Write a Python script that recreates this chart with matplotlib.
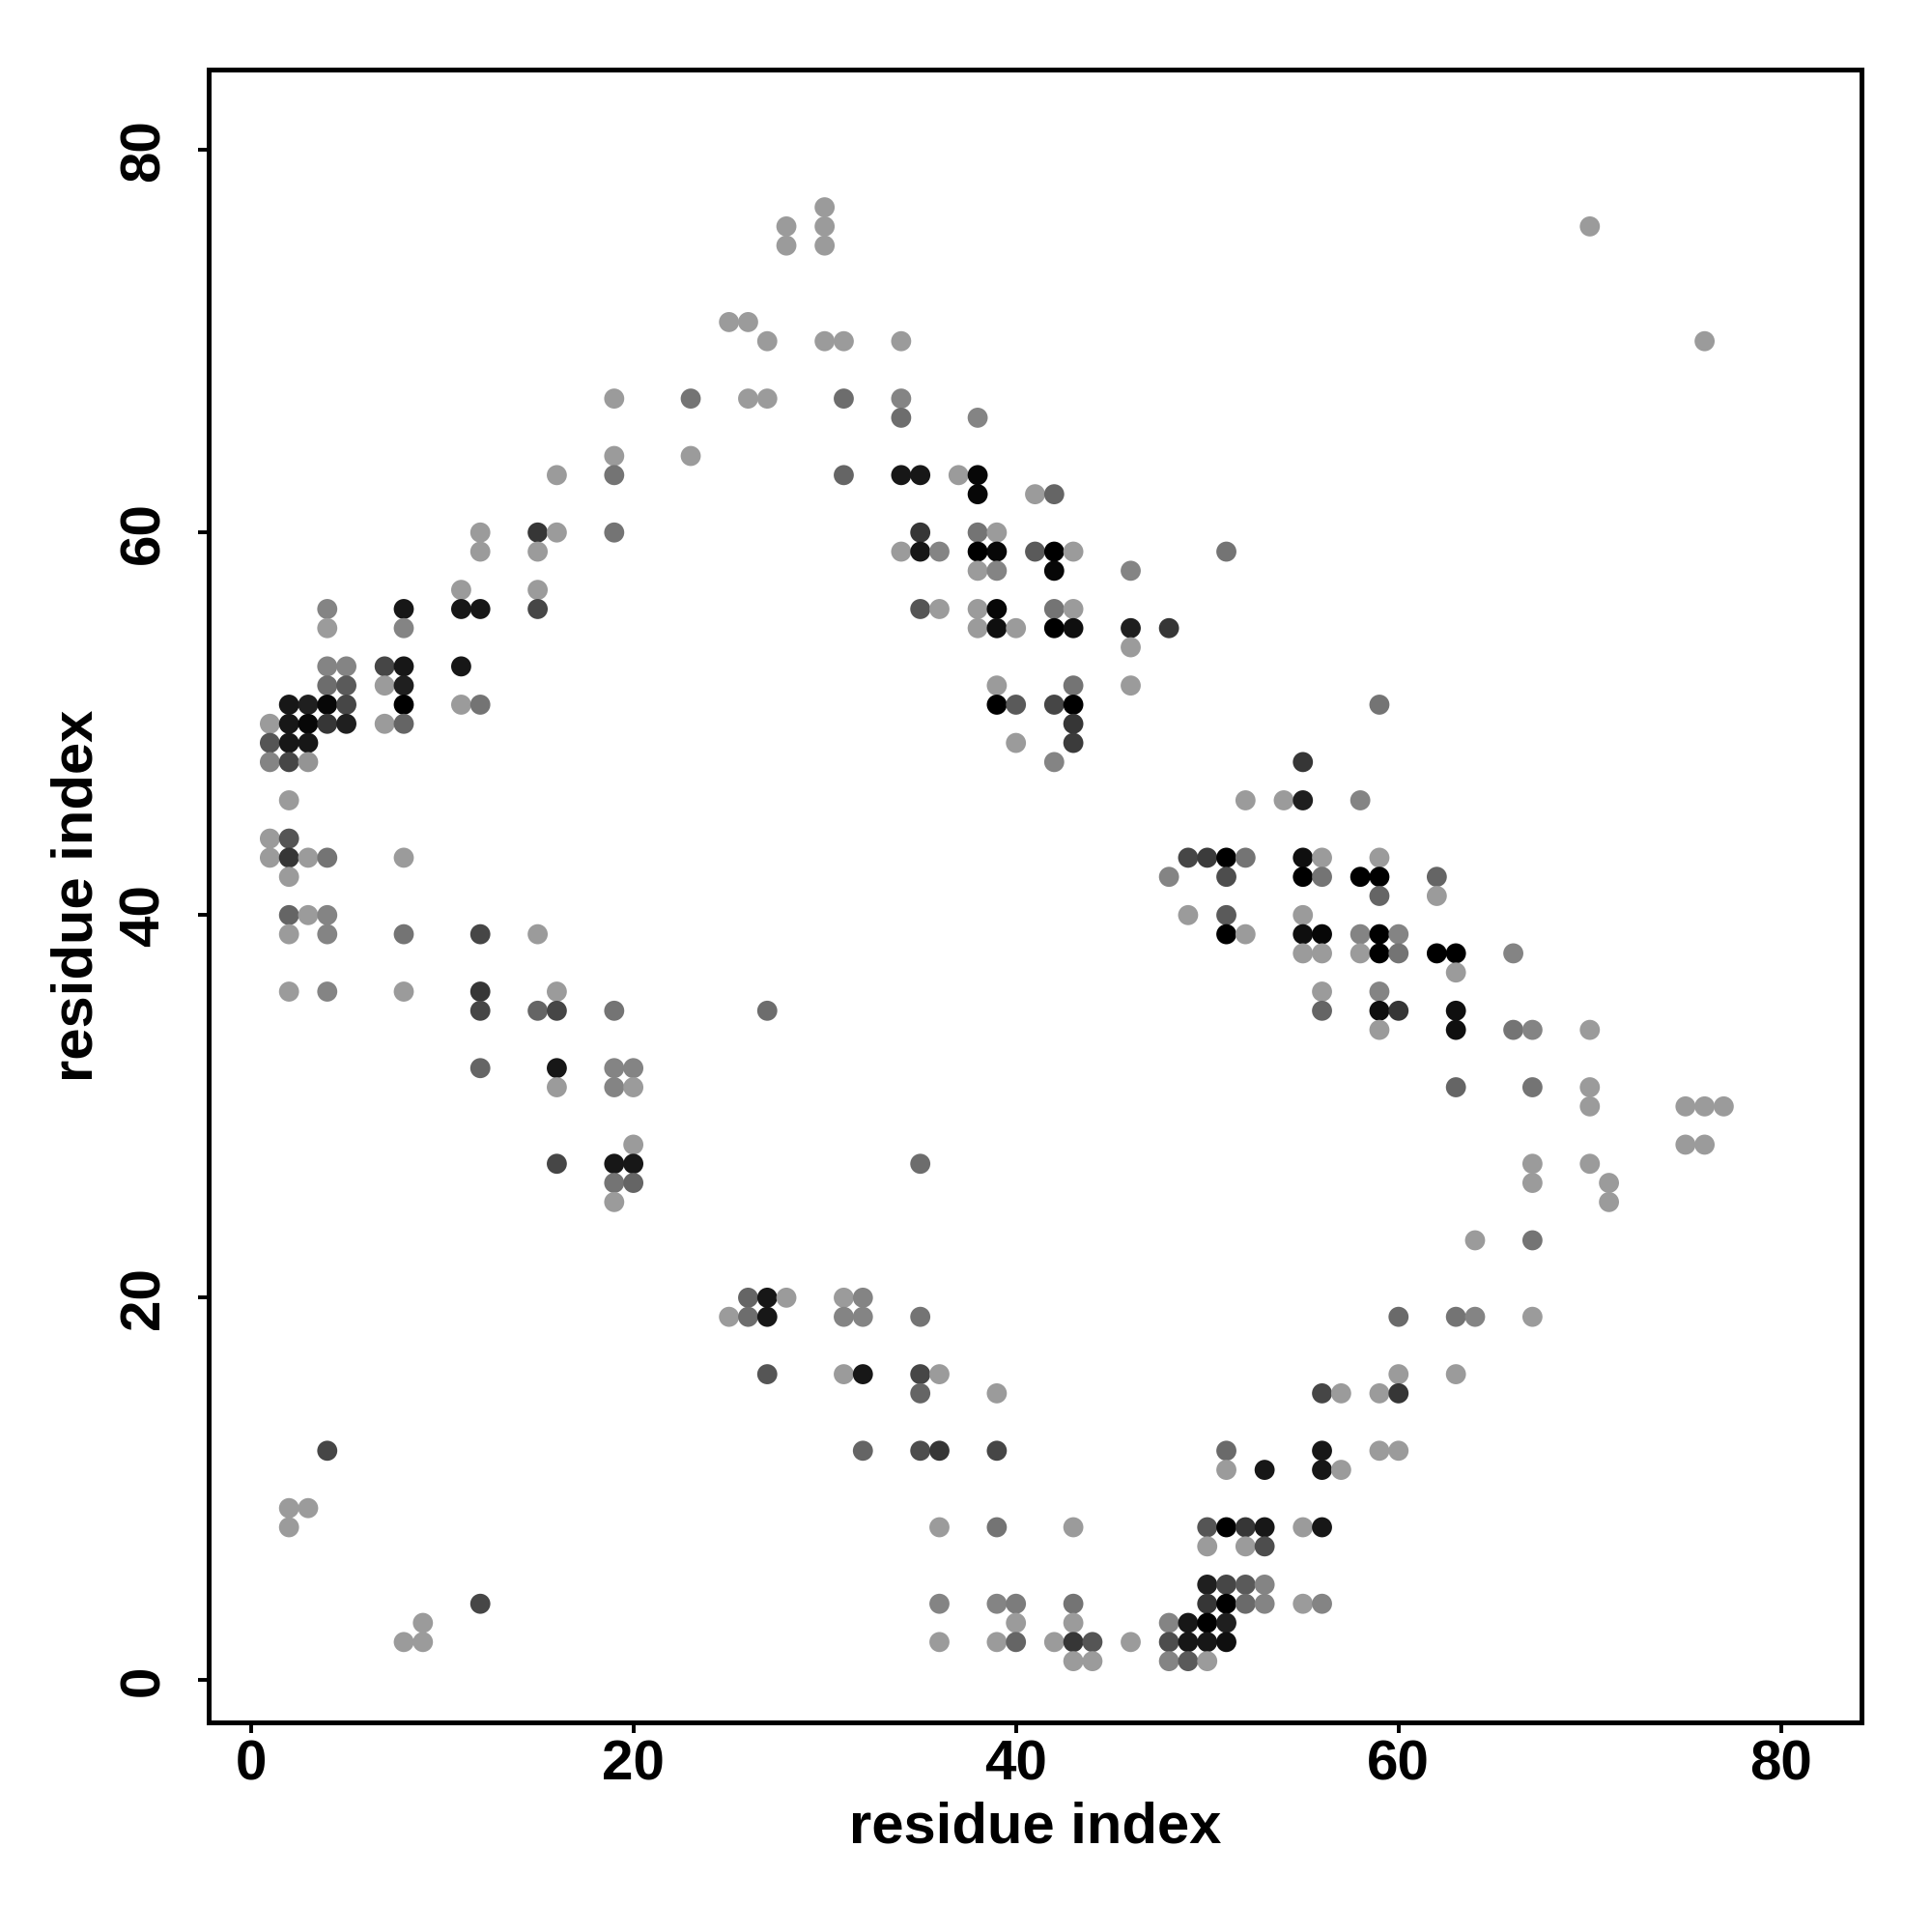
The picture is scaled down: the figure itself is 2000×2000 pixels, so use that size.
import matplotlib

matplotlib.use("Agg")
import matplotlib.pyplot as plt
import numpy as np
from matplotlib.colors import LinearSegmentedColormap

# contacts as (residue i, residue j, strength 0..1), strength 1 = darkest
contacts_nw_top = [
    (19, 67, 0), (19, 64, 0), (19, 63, .25), (16, 63, 0), (12, 60, 0), (12, 59, 0),
    (15, 60, .65), (16, 60, 0), (15, 59, 0), (19, 60, .25), (11, 57, 0), (15, 57, 0),
    (4, 56, .15), (8, 56, .85), (11, 56, .85), (12, 56, .85), (15, 56, .55),
    (4, 55, 0), (8, 55, .15), (4, 53, .15), (5, 53, .15), (7, 53, .55), (8, 53, .85),
    (11, 53, .85), (4, 52, .3), (5, 52, .42), (7, 52, 0), (8, 52, .8),
]

contacts_nw_mid = [
    (2, 51, .85), (3, 51, .8), (4, 51, .95), (5, 51, .55), (8, 51, 1), (11, 51, 0), (12, 51, .25),
    (1, 50, 0), (2, 50, .85), (3, 50, .95), (4, 50, .65), (5, 50, .8), (7, 50, 0), (8, 50, .35),
    (1, 49, .45), (2, 49, .85), (3, 49, .85),
    (1, 48, .15), (2, 48, .55), (3, 48, .05),
    (2, 46, 0),
    (1, 44, 0), (2, 44, .45),
    (1, 43, 0), (2, 43, .65), (3, 43, 0), (4, 43, .25), (8, 43, 0),
    (2, 42, 0),
    (2, 40, .35), (3, 40, 0), (4, 40, .15),
    (2, 39, 0), (4, 39, .15), (8, 39, .25), (12, 39, .55), (15, 39, 0),
    (2, 36, 0), (4, 36, .15), (8, 36, 0), (12, 36, .65), (16, 36, 0),
    (12, 35, .55), (15, 35, .35), (16, 35, .55), (19, 35, .25),
    (12, 32, .35), (16, 32, .85), (19, 32, .15), (20, 32, .15),
    (16, 31, 0), (19, 31, .15), (20, 31, 0),
    (20, 28, 0),
    (16, 27, .55), (19, 27, .85), (20, 27, .85),
    (19, 26, .25), (20, 26, .35),
    (19, 25, 0),
]

contacts_sw = [
    (4, 12, .55), (2, 9, 0), (3, 9, 0), (2, 8, 0), (12, 4, .55), (9, 3, 0), (8, 2, 0), (9, 2, 0),
]

contacts_n = [
    (30, 77, 0), (30, 76, 0), (30, 75, 0), (28, 76, 0), (28, 75, 0),
    (25, 71, 0), (26, 71, 0),
    (27, 70, 0), (30, 70, 0), (31, 70, 0), (34, 70, 0),
    (23, 67, .25), (26, 67, 0), (27, 67, 0), (31, 67, .3), (34, 67, .15),
    (34, 66, .3), (38, 66, .15),
    (23, 64, 0),
    (31, 63, .35), (34, 63, .85), (35, 63, .85), (37, 63, 0), (38, 63, .95),
    (38, 62, .95),
    (35, 60, .65), (38, 60, .25), (39, 60, 0),
    (34, 59, 0), (35, 59, .85), (36, 59, .15), (38, 59, 1), (39, 59, .95),
    (38, 58, 0), (39, 58, .15),
    (35, 56, .45), (36, 56, 0), (38, 56, 0), (39, 56, .95),
    (38, 55, 0), (39, 55, .9), (40, 55, 0),
    (39, 52, 0),
]

contacts_ne = [
    (41, 62, 0), (42, 62, .35),
    (41, 59, .42), (42, 59, 1), (43, 59, 0), (51, 59, .25),
    (42, 58, .95), (46, 58, .15),
    (42, 56, .25), (43, 56, 0),
    (42, 55, 1), (43, 55, .9), (46, 55, .8), (48, 55, .65),
    (46, 54, 0),
    (43, 52, .25), (46, 52, 0),
    (70, 76, 0), (76, 70, 0),
]

contacts_center = [
    (39, 51, 1), (40, 51, .42), (40, 49, 0), (27, 35, .3), (35, 27, .3),
]

contacts_e = [
    (42, 51, .55), (43, 51, 1), (59, 51, .25),
    (43, 50, .65),
    (43, 49, .62),
    (42, 48, .15), (55, 48, .65),
    (52, 46, 0), (54, 46, 0), (55, 46, .8), (58, 46, .15),
    (49, 43, .55), (50, 43, .62), (51, 43, 1), (52, 43, .25), (55, 43, .9), (56, 43, 0), (59, 43, 0),
    (48, 42, .15), (51, 42, .5), (55, 42, 1), (56, 42, .25), (58, 42, 1), (59, 42, 1),
    (59, 41, .35),
    (49, 40, 0), (51, 40, .42), (55, 40, 0),
    (51, 39, 1), (52, 39, 0), (55, 39, .9), (56, 39, .95), (58, 39, .15), (59, 39, 1), (60, 39, .15),
    (55, 38, 0), (56, 38, 0), (58, 38, 0), (59, 38, 1), (60, 38, .25),
    (56, 36, 0), (59, 36, .15),
    (56, 35, .35), (59, 35, .9), (60, 35, .65),
    (59, 34, 0),
]

contacts_far_e = [
    (62, 42, .35), (62, 41, 0), (62, 38, 1), (63, 38, 1), (63, 37, 0), (66, 38, .15),
    (63, 35, .9), (63, 34, .9), (66, 34, .25), (67, 34, .15), (70, 34, 0),
    (63, 31, .35), (67, 31, .25), (70, 31, 0), (70, 30, 0), (75, 30, 0), (76, 30, 0), (77, 30, 0),
    (75, 28, 0), (76, 28, 0), (67, 27, 0), (70, 27, 0), (67, 26, 0), (71, 26, 0), (71, 25, 0),
]

contacts_s = [
    (26, 20, .35), (27, 20, .85), (28, 20, 0), (31, 20, 0), (32, 20, .15),
    (25, 19, 0), (26, 19, .3), (27, 19, .85), (31, 19, .15), (32, 19, .15), (35, 19, .25),
    (27, 16, .45), (31, 16, 0), (32, 16, .85), (35, 16, .55), (36, 16, 0),
    (35, 15, .35), (39, 15, 0),
    (32, 12, .35), (35, 12, .5), (36, 12, .65), (39, 12, .55),
    (36, 8, 0), (39, 8, .25),
    (36, 4, .15), (39, 4, .15), (40, 4, .2),
    (40, 3, 0),
    (36, 2, 0), (39, 2, 0), (40, 2, .35),
]

contacts_se = [
    (60, 19, .32), (63, 19, .25), (64, 19, .15), (67, 19, 0),
    (60, 16, 0), (63, 16, 0),
    (56, 15, .55), (57, 15, 0), (59, 15, 0), (60, 15, .65),
    (51, 12, .32), (56, 12, .85), (59, 12, 0), (60, 12, 0),
    (51, 11, 0), (53, 11, .85), (56, 11, .85), (57, 11, 0),
    (43, 8, 0), (50, 8, .45), (51, 8, 1), (52, 8, .65), (53, 8, .85), (55, 8, 0), (56, 8, .85),
    (50, 7, 0), (52, 7, 0), (53, 7, .5),
    (50, 5, .8), (51, 5, .55), (52, 5, .42), (53, 5, .15),
    (43, 4, .25), (50, 4, .65), (51, 4, 1), (52, 4, .32), (53, 4, .15), (55, 4, 0), (56, 4, .15),
    (43, 3, 0), (48, 3, .15), (49, 3, .85), (50, 3, 1), (51, 3, .8),
    (42, 2, 0), (43, 2, .65), (44, 2, .45), (46, 2, 0), (48, 2, .5), (49, 2, .85), (50, 2, .85), (51, 2, .9),
    (43, 1, 0), (44, 1, 0), (48, 1, .15), (49, 1, .42), (50, 1, 0),
    (64, 23, 0), (67, 23, .25),
]

ticks = [0, 20, 40, 60, 80]


def main():
    contacts = np.array(
        contacts_nw_top + contacts_nw_mid + contacts_sw + contacts_n + contacts_ne
        + contacts_center + contacts_e + contacts_far_e + contacts_s + contacts_se,
        dtype=float,
    )

    plt.rcParams.update(
        {
            "font.family": ["Liberation Sans", "DejaVu Sans"],
            "font.weight": "bold",
            "axes.labelweight": "bold",
        }
    )

    cmap = LinearSegmentedColormap.from_list("contact_grey", ["#9b9b9b", "#000000"])

    fig = plt.figure(figsize=(10, 10), dpi=200)
    ax = fig.add_axes([0.108, 0.1085, 0.8555, 0.8555])

    ax.scatter(
        contacts[:, 0],
        contacts[:, 1],
        c=contacts[:, 2],
        cmap=cmap,
        vmin=0,
        vmax=1,
        s=56,
        linewidths=0,
    )

    ax.set_xlim(-2.2, 84.2)
    ax.set_ylim(-2.2, 84.2)
    ax.set_xticks(ticks)
    ax.set_yticks(ticks)

    for spine in ax.spines.values():
        spine.set_linewidth(1.8)

    ax.tick_params(axis="both", direction="out", length=3.8, width=1.4, labelsize=21)
    ax.tick_params(axis="x", pad=2.5)
    ax.tick_params(axis="y", pad=10.5)
    for label in ax.get_yticklabels():
        label.set_rotation(90)
        label.set_verticalalignment("center")

    ax.set_xlabel("residue index", fontsize=21.5, fontweight="bold")
    ax.set_ylabel("residue index", fontsize=21.5, fontweight="bold")
    ax.xaxis.label.set_verticalalignment("center")
    ax.yaxis.label.set_verticalalignment("center")
    ax.xaxis.set_label_coords(0.5, -0.0635)
    ax.yaxis.set_label_coords(-0.0795, 0.5)

    fig.savefig("out.png", dpi=200)


if __name__ == "__main__":
    main()
